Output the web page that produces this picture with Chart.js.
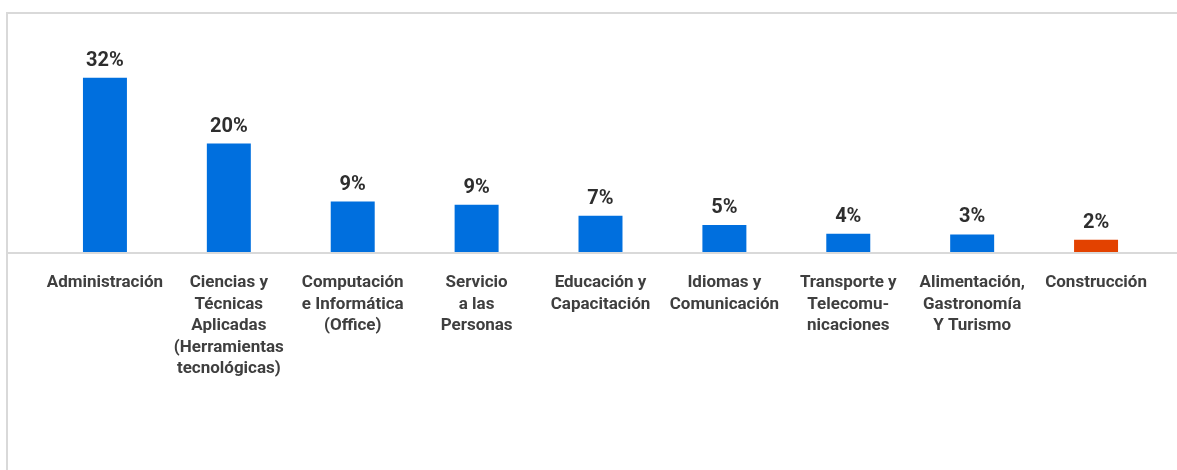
<!DOCTYPE html>
<html lang="es">

<head>
    <meta charset="UTF-8">
    <meta name="viewport" content="width=device-width, initial-scale=1.0">
    <title>Áreas de capacitación</title>
    <style>
        body { margin: 0; background: #fff; }
        #marco {
            position: absolute; left: 6px; top: 12px; right: -10px; bottom: -10px;
            border-left: 2px solid #d9d9d9; border-top: 2px solid #d9d9d9;
        }
        .container { position: absolute; left: 0; top: 0; width: 1177px; height: 470px; }
    </style>
</head>

<body>
    <div id="marco"></div>
    <div class="container">
        <canvas id="grafico"></canvas>
    </div>

    <script src="https://cdn.jsdelivr.net/npm/chart.js"></script>
    <script>
        // categorias (etiquetas en varias lineas)
        let categorias = [
            ["Administración"],
            ["Ciencias y", "Técnicas", "Aplicadas", "(Herramientas", "tecnológicas)"],
            ["Computación", "e Informática", "(Office)"],
            ["Servicio", "a las", "Personas"],
            ["Educación y", "Capacitación"],
            ["Idiomas y", "Comunicación"],
            ["Transporte y", "Telecomu-", "nicaciones"],
            ["Alimentación,", "Gastronomía", "Y Turismo"],
            ["Construcción"]
        ]
        let porcentajes = [32, 20, 9.4, 8.8, 6.8, 5.1, 3.5, 3.4, 2.4]
        let etiquetas = ["32%", "20%", "9%", "9%", "7%", "5%", "4%", "3%", "2%"]
        let colores = ["#006fde", "#006fde", "#006fde", "#006fde", "#006fde", "#006fde", "#006fde", "#006fde", "#e34200"]

        // etiquetas sobre las barras + linea del eje
        const pluginEtiquetas = {
            id: "etiquetas",
            afterDatasetsDraw(chart) {
                const ctx = chart.ctx
                const y0 = chart.scales.y.getPixelForValue(0)
                ctx.save()
                ctx.strokeStyle = "#d9d9d9"
                ctx.lineWidth = 2
                ctx.beginPath()
                ctx.moveTo(8, y0)
                ctx.lineTo(chart.width, y0)
                ctx.stroke()

                ctx.font = "bold 20px Roboto"
                ctx.fillStyle = "#2e2e2e"
                ctx.textAlign = "center"
                ctx.textBaseline = "middle"
                chart.getDatasetMeta(0).data.forEach((barra, i) => {
                    ctx.fillText(etiquetas[i], barra.x, barra.y - 17)
                })
                ctx.restore()
            }
        }

        let canvaDom = document.querySelector("#grafico")
        new Chart(canvaDom, {
            type: "bar",
            data: {
                labels: categorias,
                datasets: [{
                    data: porcentajes,
                    backgroundColor: colores,
                    borderWidth: 0,
                    barPercentage: 0.355,
                    categoryPercentage: 1
                }]
            },
            options: {
                responsive: true,
                maintainAspectRatio: false,
                animation: false,
                layout: { padding: { left: 43, right: 19, top: 34, bottom: 0 } },
                plugins: { legend: { display: false }, tooltip: { enabled: false } },
                scales: {
                    x: {
                        grid: { display: false, drawTicks: false },
                        border: { display: false },
                        ticks: {
                            autoSkip: false,
                            maxRotation: 0,
                            padding: 19,
                            color: "#3f3f3f",
                            font: { family: "Roboto", weight: "bold", size: 17, lineHeight: 1.27 }
                        },
                        afterFit(scale) { scale.height = 217 }
                    },
                    y: {
                        display: false,
                        min: 0,
                        max: 40
                    }
                }
            },
            plugins: [pluginEtiquetas]
        })
    </script>
</body>

</html>
